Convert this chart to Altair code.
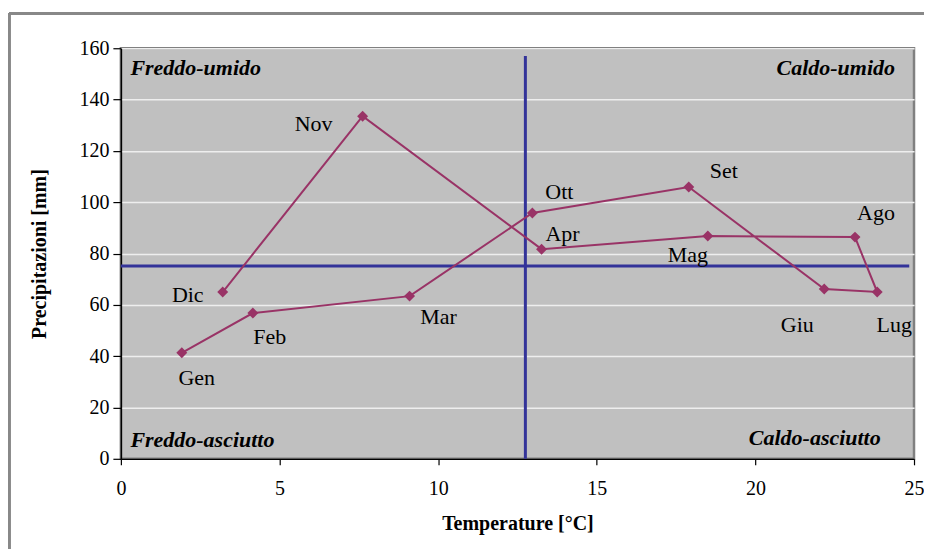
import altair as alt
import pandas as pd

# Data in drawn order of the line
months = ["Gen", "Feb", "Mar", "Ott", "Set", "Giu", "Lug", "Ago", "Mag", "Apr", "Nov", "Dic"]
temperature = [1.92, 4.16, 9.1, 12.97, 17.9, 22.17, 23.84, 23.14, 18.5, 13.26, 7.62, 3.21]
precip = [41.3, 56.8, 63.4, 95.8, 105.9, 66.2, 65.0, 86.4, 86.8, 81.7, 133.5, 65.0]
label_dx = [15, 17, 29, 27, 35, -27, 17, 21, -20, 21, -49, -35]
label_dy = [25, 24, 21, -21, -16, 36, 33, -24, 19, -15, 8, 3]

temp_threshold = 12.75
precip_threshold = 75.1

quadrants = ["Freddo-umido", "Caldo-umido", "Freddo-asciutto", "Caldo-asciutto"]
quad_x = [0.3, 24.4, 0.3, 23.95]
quad_y = [152.2, 152.2, 7.4, 8.2]
quad_align = ["left", "right", "left", "right"]

FONT = "'Liberation Serif', 'Times New Roman', serif"
COL = "#993366"
BLUE = "#333399"

df = pd.DataFrame({
    "mese": months, "T": temperature, "P": precip,
    "dx": label_dx, "dy": label_dy, "ord": list(range(len(months))),
})
dq = pd.DataFrame({"txt": quadrants, "x": quad_x, "y": quad_y, "al": quad_align})

xs = alt.Scale(domain=[0, 25], nice=False, zero=False)
ys = alt.Scale(domain=[0, 160], nice=False)

xax = alt.Axis(values=[0, 5, 10, 15, 20, 25], grid=False, title="Temperature [°C]",
               tickSize=6, labelPadding=14, titlePadding=15, labelFlush=False)
yax = alt.Axis(values=list(range(0, 161, 20)), grid=True, title="Precipitazioni [mm]",
               tickSize=8, labelPadding=4, titlePadding=29)

base = alt.Chart(df)

line = base.mark_line(color=COL, strokeWidth=2).encode(
    x=alt.X("T:Q", scale=xs, axis=xax),
    y=alt.Y("P:Q", scale=ys, axis=yax),
    order="ord:Q",
)
pts = base.mark_point(shape="diamond", filled=True, color=COL, size=120, opacity=1).encode(
    x=alt.X("T:Q", scale=xs), y=alt.Y("P:Q", scale=ys)
)

label_layers = []
for i, m in enumerate(months):
    label_layers.append(
        alt.Chart(df[df["mese"] == m]).mark_text(
            font=FONT, fontSize=22, color="black", dx=label_dx[i], dy=label_dy[i]
        ).encode(x=alt.X("T:Q", scale=xs), y=alt.Y("P:Q", scale=ys), text="mese:N")
    )

vline = alt.Chart(pd.DataFrame({"x": [temp_threshold], "y": [0], "y2": [157]})).mark_rule(
    color=BLUE, strokeWidth=3
).encode(x=alt.X("x:Q", scale=xs), y=alt.Y("y:Q", scale=ys), y2="y2:Q")
hline = alt.Chart(pd.DataFrame({"y": [precip_threshold], "x": [0], "x2": [24.85]})).mark_rule(
    color=BLUE, strokeWidth=3
).encode(y=alt.Y("y:Q", scale=ys), x=alt.X("x:Q", scale=xs), x2="x2:Q")

quad_layers = []
for al in ["left", "right"]:
    quad_layers.append(
        alt.Chart(dq[dq["al"] == al]).mark_text(
            font=FONT, fontSize=22, fontStyle="italic", fontWeight="bold",
            align=al, baseline="middle", color="black"
        ).encode(x=alt.X("x:Q", scale=xs), y=alt.Y("y:Q", scale=ys), text="txt:N")
    )

# outer frame (partially visible, as in the reference crop)
frame_left = alt.Chart(df).mark_rule(color="#888888", strokeWidth=2.5).encode(
    x=alt.value(-112), y=alt.value(-35), y2=alt.value(520)
)
frame_top = alt.Chart(df).mark_rule(color="#888888", strokeWidth=2.5).encode(
    x=alt.value(-112), x2=alt.value(820), y=alt.value(-35)
)

chart = alt.layer(
    vline, hline, line, pts, *label_layers, *quad_layers, frame_left, frame_top
).properties(
    width=794, height=411,
    autosize=alt.AutoSizeParams(type="none"),
    padding={"left": 113, "top": 40, "right": 10, "bottom": 90},
    background="white",
).configure_view(
    fill="#C0C0C0", stroke="#808080", strokeWidth=2.5
).configure_axis(
    labelFont=FONT, titleFont=FONT, labelFontSize=20, titleFontSize=20,
    labelColor="black", titleColor="black", titleFontWeight="bold",
    domainColor="black", tickColor="black", domainWidth=1.5, tickWidth=1.2,
    gridColor="#EEEEEE", gridWidth=1.5,
)

chart.save("out.html", embed_options={"renderer": "svg", "actions": False})
